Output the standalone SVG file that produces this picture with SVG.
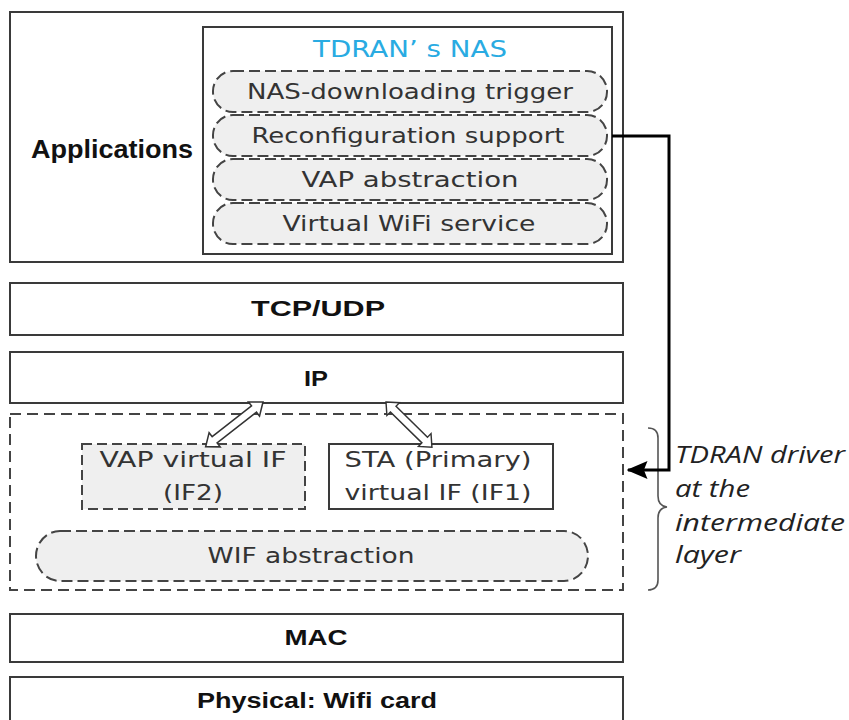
<svg xmlns="http://www.w3.org/2000/svg" width="849" height="720" viewBox="0 0 849 720">
  <style>
    .box { fill: #ffffff; stroke: #3a3a3a; stroke-width: 2; }
    .dashbox { fill: none; stroke: #444444; stroke-width: 2; stroke-dasharray: 11 6; }
    .pill { fill: #efefef; stroke: #444444; stroke-width: 2; stroke-dasharray: 11 5; }
    .layer { font-family: "Liberation Sans", Arial, sans-serif; font-weight: bold; font-size: 22px; fill: #111111; text-anchor: middle; }
    .jp { font-family: "DejaVu Sans", "Noto Sans CJK JP", sans-serif; font-size: 22px; fill: #333333; text-anchor: middle; }
    .note { font-family: "Open Sans", "Noto Sans", sans-serif; font-style: italic; font-size: 24px; fill: #222222; }
    .link { fill: none; stroke: #000000; stroke-width: 3; }
    .dbl { fill: #ffffff; stroke: #333333; stroke-width: 1.5; stroke-linejoin: miter; }
  </style>
  <defs>
    <marker id="head" markerWidth="7" markerHeight="6" refX="6.5" refY="3" orient="auto" markerUnits="strokeWidth">
      <path d="M0,0 L7,3 L0,6 L1.2,3 Z" fill="#000000"/>
    </marker>
    <!-- hollow two-way arrow, unit length 70 along x -->
    <polygon id="twoway" points="0,0 11,-9 11,-4 59,-4 59,-9 70,0 59,9 59,4 11,4 11,9"/>
  </defs>

  <rect width="849" height="720" fill="#ffffff"/>

  <!-- Applications layer -->
  <g id="applications">
    <rect class="box" x="10" y="12" width="613" height="250"/>
    <text x="31" y="158" style="font-family:'Liberation Sans',Arial,sans-serif;font-weight:bold;font-size:25px;fill:#111" textLength="162" lengthAdjust="spacingAndGlyphs">Applications</text>
  </g>

  <g id="nas">
    <rect class="box" x="203" y="27" width="409" height="227"/>
    <text x="410" y="57" style="font-family:'DejaVu Sans','Noto Sans CJK JP',sans-serif;font-size:23px;fill:#29abe2;text-anchor:middle" textLength="194" lengthAdjust="spacingAndGlyphs">TDRAN’ s NAS</text>
  </g>

  <g id="nas-trigger">
    <rect class="pill" x="213" y="71" width="394" height="41" rx="20" ry="20"/>
    <text class="jp" x="410" y="99" textLength="326" lengthAdjust="spacingAndGlyphs">NAS-downloading trigger</text>
  </g>
  <g id="reconfig">
    <rect class="pill" x="213" y="115" width="394" height="41" rx="20" ry="20"/>
    <text class="jp" x="408" y="143" textLength="313" lengthAdjust="spacingAndGlyphs">Reconfiguration support</text>
  </g>
  <g id="vap-abstraction">
    <rect class="pill" x="213" y="159" width="394" height="41" rx="20" ry="20"/>
    <text class="jp" x="410" y="187" textLength="217" lengthAdjust="spacingAndGlyphs">VAP abstraction</text>
  </g>
  <g id="virtual-wifi">
    <rect class="pill" x="213" y="203" width="394" height="41" rx="20" ry="20"/>
    <text class="jp" x="409" y="231" textLength="253" lengthAdjust="spacingAndGlyphs">Virtual WiFi service</text>
  </g>

  <!-- Transport / network layers -->
  <g id="tcp-udp">
    <rect class="box" x="10" y="283" width="613" height="52"/>
    <text class="layer" x="318" y="316" textLength="134" lengthAdjust="spacingAndGlyphs">TCP/UDP</text>
  </g>
  <g id="ip">
    <rect class="box" x="10" y="352" width="613" height="51"/>
    <text class="layer" x="316" y="386" textLength="24" lengthAdjust="spacingAndGlyphs">IP</text>
  </g>

  <!-- Intermediate driver layer -->
  <g id="driver">
    <rect class="dashbox" x="10" y="414" width="613" height="176"/>
  </g>
  <g id="vap-if">
    <rect class="pill" x="82" y="444" width="223" height="65" rx="0" ry="0" style="stroke-dasharray:10 5"/>
    <text class="jp" x="193" y="467" textLength="187" lengthAdjust="spacingAndGlyphs">VAP virtual IF</text>
    <text class="jp" x="193" y="500" textLength="60" lengthAdjust="spacingAndGlyphs">(IF2)</text>
  </g>
  <g id="sta-if">
    <rect class="box" x="329" y="444" width="224" height="65"/>
    <text class="jp" x="438" y="467" textLength="187" lengthAdjust="spacingAndGlyphs">STA (Primary)</text>
    <text class="jp" x="438" y="500" textLength="187" lengthAdjust="spacingAndGlyphs">virtual IF (IF1)</text>
  </g>
  <g id="wif">
    <rect class="pill" x="36" y="531" width="552" height="50" rx="24" ry="25"/>
    <text class="jp" x="311" y="563" textLength="207" lengthAdjust="spacingAndGlyphs">WIF abstraction</text>
  </g>

  <!-- Link and physical layers -->
  <g id="mac">
    <rect class="box" x="10" y="614" width="613" height="48"/>
    <text class="layer" x="316" y="645" textLength="63" lengthAdjust="spacingAndGlyphs">MAC</text>
  </g>
  <g id="physical">
    <rect class="box" x="10" y="677" width="613" height="50"/>
    <text class="layer" x="317" y="708" textLength="240" lengthAdjust="spacingAndGlyphs">Physical: Wifi card</text>
  </g>

  <!-- Driver annotation -->
  <g id="driver-note">
    <path d="M648,428 Q658,428 658,438 L658,496 Q658,506 667,507 Q658,508 658,518 L658,580 Q658,590 648,590" fill="none" stroke="#555555" stroke-width="1.6"/>
    <text class="note" x="675" y="463" textLength="170" lengthAdjust="spacingAndGlyphs">TDRAN driver</text>
    <text class="note" x="675" y="497" textLength="75" lengthAdjust="spacingAndGlyphs">at the</text>
    <text class="note" x="675" y="531" textLength="170" lengthAdjust="spacingAndGlyphs">intermediate</text>
    <text class="note" x="675" y="563" textLength="66" lengthAdjust="spacingAndGlyphs">layer</text>
  </g>

  <!-- Connectors -->
  <g id="connectors">
    <path class="link" d="M612,136 H669 V470 H628" marker-end="url(#head)"/>
    <use href="#twoway" class="dbl" transform="translate(263,402) rotate(142) scale(1.04,1)"/>
    <use href="#twoway" class="dbl" transform="translate(386,402) rotate(44.5) scale(0.92,1)"/>
  </g>
</svg>
